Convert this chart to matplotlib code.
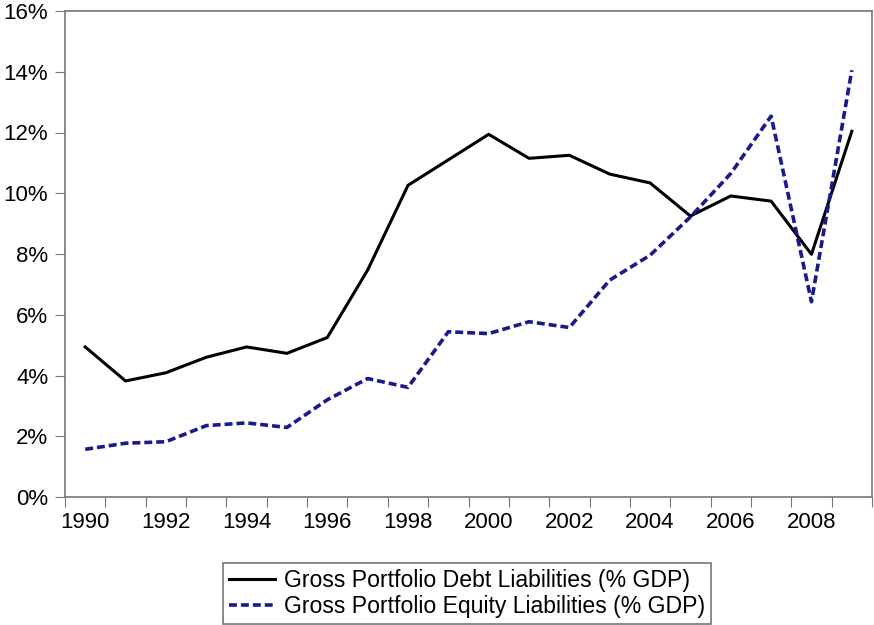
import numpy as np
import matplotlib
matplotlib.use("Agg")
from matplotlib import pyplot as plt
from matplotlib.ticker import FuncFormatter

years = list(range(1990, 2010))
debt = [4.94, 3.82, 4.09, 4.60, 4.94, 4.73, 5.25, 7.47, 10.26, 11.10,
        11.94, 11.15, 11.25, 10.63, 10.34, 9.25, 9.91, 9.74, 7.99, 12.04]
equity = [1.57, 1.77, 1.82, 2.35, 2.44, 2.29, 3.20, 3.90, 3.61, 5.44,
          5.38, 5.77, 5.58, 7.14, 7.96, 9.22, 10.65, 12.54, 6.43, 14.05]
label_years = list(range(1990, 2009, 2))

plt.rcParams['font.family'] = ['Liberation Sans', 'DejaVu Sans']

fig = plt.figure(figsize=(8.74, 6.25), dpi=100)
ax = fig.add_axes([0.0744, 0.2048, 0.9233, 0.7776])

l1, = ax.plot(years, debt, color='black', lw=2.2,
              label='Gross Portfolio Debt Liabilities (% GDP)')
l2, = ax.plot(years, equity, color='#1a1a8c', lw=2.6, dashes=(2.2, 1.1),
              label='Gross Portfolio Equity Liabilities (% GDP)')

ax.set_xlim(1989.5, 2009.5)
ax.set_ylim(0, 16)

# ticks at year boundaries, labels centred on the years
ax.set_xticks(np.arange(1989.5, 2010, 1))
ax.set_xticklabels([])
ax.set_xticks(label_years, minor=True)
ax.set_xticklabels([str(y) for y in label_years], minor=True)
ax.tick_params(axis='x', which='major', length=7, color='#777777', direction='out')
ax.tick_params(axis='x', which='minor', length=0, labelsize=16, pad=11)

ax.set_yticks(range(0, 17, 2))
ax.yaxis.set_major_formatter(FuncFormatter(lambda v, p: f"{int(v)}%"))
ax.tick_params(axis='y', length=7, color='#777777', labelsize=16, pad=5,
               direction='out')

for s in ax.spines.values():
    s.set_color('#777777')
    s.set_linewidth(1.2)

leg = fig.legend(handles=[l1, l2], loc='upper left', bbox_to_anchor=(0.255, 0.099),
                 borderaxespad=0, fontsize=16.6, frameon=True, fancybox=False,
                 handlelength=2.0, handletextpad=0.4, labelspacing=0.15,
                 borderpad=0.25)
leg.get_frame().set_edgecolor('#555555')
leg.get_frame().set_linewidth(1.2)

fig.savefig("out.png", dpi=100)
